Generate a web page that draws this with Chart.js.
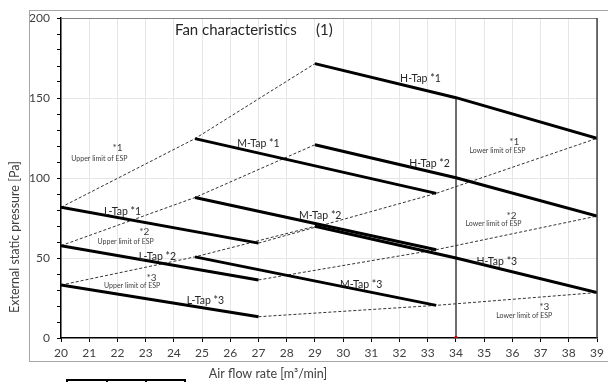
<!DOCTYPE html>
<html>
<head>
<meta charset="utf-8">
<script src="https://cdn.jsdelivr.net/npm/chart.js@4.4.1/dist/chart.umd.min.js"></script>
<style>
  html, body { margin: 0; padding: 0; background: #fff; }
  #wrap { width: 608px; height: 382px; position: relative; overflow: hidden; }
  #wrap canvas { position: absolute; left: 0; top: 0; }
  #frame { position: absolute; left: 29px; top: 10px; width: 600px; height: 352px;
           border: 1px solid #a6a6a6; box-sizing: border-box; pointer-events: none; }
</style>
</head>
<body>
<div id="wrap">
  <canvas id="fanChart" width="608" height="382"></canvas>
  <div id="frame"></div>
</div>
<script>
// air flow rate [m3/min] at which each tap curve is read
const lTapFlow = [20, 27];
const mTapFlow = [24.75, 33.3];
const hTapFlow = [29, 34, 39];

// external static pressure [Pa]
const lTap1 = [81.7, 59.3];
const lTap2 = [57.7, 36.3];
const lTap3 = [33.1, 13.3];
const mTap1 = [124.6, 90.4];
const mTap2 = [87.8, 55.2];
const mTap3 = [50.7, 20.4];
const hTap1 = [171.5, 150.2, 124.8];
const hTap2 = [120.8, 100.2, 76.2];
const hTap3 = [69.8, 50.0, 28.4];

const ratedFlow = 34;
const xTicks = [20, 39];
const yTicks = [0, 200];

// label text and where it sits (data units)
const curveLabels = [
  ['H-Tap *1', 32.74, 162.3], ['H-Tap *2', 33.06, 109.2], ['H-Tap *3', 35.45, 47.5],
  ['M-Tap *1', 27.0, 121.7], ['M-Tap *2', 29.19, 76.4], ['M-Tap *3', 30.64, 33.6],
  ['L-Tap *1', 22.18, 78.9], ['L-Tap *2', 23.42, 50.8], ['L-Tap *3', 25.12, 23.1]
];
const limitMarks = [
  ['*1', 22.0, 118.6], ['*2', 22.95, 66.4], ['*3', 23.21, 37.9],
  ['*1', 36.07, 122.7], ['*2', 35.97, 76.4], ['*3', 37.13, 19.2]
];
const limitNotes = [
  ['Upper limit of ESP', 21.36, 112.3], ['Upper limit of ESP', 22.29, 60.2], ['Upper limit of ESP', 22.52, 32.5],
  ['Lower limit of ESP', 35.47, 117.1], ['Lower limit of ESP', 35.33, 71.25], ['Lower limit of ESP', 36.42, 13.75]
];

const FONT = 'Lato, "Noto Sans", sans-serif';

function pts(xs, ys) {
  return xs.map((x, i) => ({ x: x, y: ys[i] }));
}
function first(xs, ys) { return { x: xs[0], y: ys[0] }; }
function last(xs, ys) { return { x: xs[xs.length - 1], y: ys[ys.length - 1] }; }

function solid(data) {
  return { data: data, borderColor: '#000', borderWidth: 3, pointRadius: 0, tension: 0, order: 1 };
}
function dashed(data) {
  return { data: data, borderColor: '#333', borderWidth: 1, borderDash: [3, 2], pointRadius: 0, order: 2 };
}

const taps = [
  [lTap1, mTap1, hTap1],
  [lTap2, mTap2, hTap2],
  [lTap3, mTap3, hTap3]
];

const datasets = [];
taps.forEach(t => {
  datasets.push(solid(pts(lTapFlow, t[0])));
  datasets.push(solid(pts(mTapFlow, t[1])));
  datasets.push(solid(pts(hTapFlow, t[2])));
  // upper limit joins the start points, lower limit the end points
  datasets.push(dashed([first(lTapFlow, t[0]), first(mTapFlow, t[1]), first(hTapFlow, t[2])]));
  datasets.push(dashed([last(lTapFlow, t[0]), last(mTapFlow, t[1]), last(hTapFlow, t[2])]));
});
datasets.push({
  data: [{ x: ratedFlow, y: 0 }, { x: ratedFlow, y: hTap1[hTapFlow.indexOf(ratedFlow)] }],
  borderColor: '#6e6e6e', borderWidth: 2, pointRadius: [2, 0],
  pointBackgroundColor: '#c00000', pointBorderWidth: 0, order: 3
});

const decor = {
  id: 'decor',
  afterDatasetsDraw(chart) {
    const c = chart.ctx;
    const a = chart.chartArea;
    const xs = chart.scales.x, ys = chart.scales.y;
    c.save();
    c.setLineDash([]);
    // plot frame top / right
    c.strokeStyle = '#808080';
    c.lineWidth = 1;
    c.beginPath();
    c.moveTo(a.left, a.top + 0.5); c.lineTo(a.right, a.top + 0.5);
    c.stroke();
    c.strokeStyle = '#404040';
    c.lineWidth = 1.5;
    c.beginPath();
    c.moveTo(a.right, a.top); c.lineTo(a.right, a.bottom);
    c.stroke();

    c.textAlign = 'center';
    c.textBaseline = 'middle';
    c.fillStyle = '#262626';
    c.font = '10.5px ' + FONT;
    curveLabels.forEach(l => c.fillText(l[0], xs.getPixelForValue(l[1]), ys.getPixelForValue(l[2])));
    c.fillStyle = '#404040';
    c.font = '10px ' + FONT;
    limitMarks.forEach(l => c.fillText(l[0], xs.getPixelForValue(l[1]), ys.getPixelForValue(l[2])));
    c.font = '7px ' + FONT;
    limitNotes.forEach(l => c.fillText(l[0], xs.getPixelForValue(l[1]), ys.getPixelForValue(l[2])));

    // title
    c.fillStyle = '#262626';
    c.font = '15px ' + FONT;
    c.textAlign = 'left';
    c.fillText('Fan characteristics', 175, 30);
    c.fillText('(1)', 316, 30);

    // axis titles
    c.fillStyle = '#404040';
    c.font = '12.5px ' + FONT;
    c.textAlign = 'center';
    c.fillText('Air flow rate [m\u00b3/min]', 268, 374);
    c.translate(15, 237);
    c.rotate(-Math.PI / 2);
    c.fillText('External static pressure [Pa]', 0, 0);
    c.restore();
  },
  afterDraw(chart) {
    const c = chart.ctx;
    c.save();
    c.setLineDash([]);
    // little table peeking in at the bottom
    c.strokeStyle = '#000';
    c.lineWidth = 2;
    c.strokeRect(67, 380, 118, 12);
    c.beginPath();
    c.moveTo(107, 380); c.lineTo(107, 392);
    c.moveTo(146, 380); c.lineTo(146, 392);
    c.stroke();
    c.restore();
  }
};

new Chart(document.getElementById('fanChart'), {
  type: 'line',
  data: { datasets: datasets },
  options: {
    responsive: false,
    devicePixelRatio: 1,
    animation: false,
    layout: { padding: { top: 18, right: 10, left: 0, bottom: 0 } },
    plugins: { legend: { display: false }, tooltip: { enabled: false } },
    scales: {
      x: {
        type: 'linear',
        min: xTicks[0], max: xTicks[1],
        afterFit(s) { s.height = 44; },
        grid: { color: '#e6e6e6', tickColor: '#000', tickLength: 4 },
        border: { color: '#000', width: 1.5 },
        ticks: { stepSize: 1, autoSkip: false, padding: 4, color: '#404040', font: { family: FONT, size: 12 } }
      },
      y: {
        min: yTicks[0], max: yTicks[1],
        afterFit(s) { s.width = 61; },
        grid: {
          color: ctx => (ctx.tick && ctx.tick.value % 50 === 0 && ctx.tick.value > 0) ? '#e6e6e6' : 'transparent',
          tickColor: '#000', tickLength: 4
        },
        border: { color: '#000', width: 1.5 },
        ticks: {
          stepSize: 10, autoSkip: false, padding: 7, color: '#404040', font: { family: FONT, size: 12 },
          callback: v => (v % 50 === 0 ? v : '')
        }
      }
    }
  },
  plugins: [decor]
});
</script>
</body>
</html>
